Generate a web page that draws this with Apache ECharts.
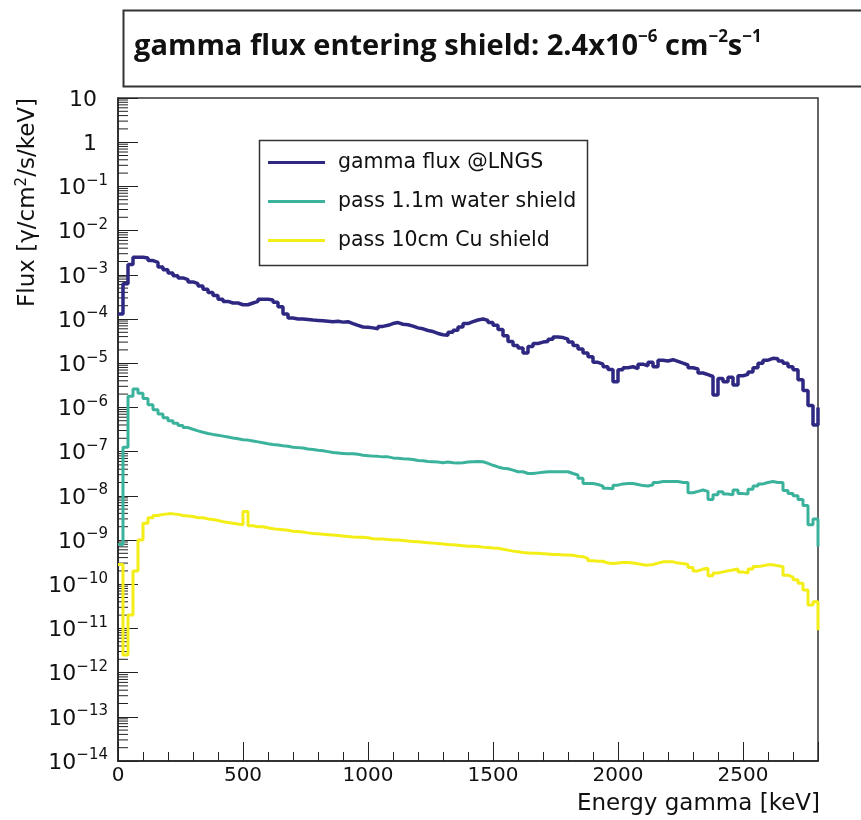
<!DOCTYPE html>
<html>
<head>
<meta charset="utf-8">
<script src="https://cdn.jsdelivr.net/npm/echarts@6/dist/echarts.min.js"></script>
<style>
html,body{margin:0;padding:0;background:#fff;}
#chart{width:861px;height:820px;}
</style>
</head>
<body>
<div id="chart"></div>
<script>
// Energy bin lower edges [keV]
const energies = [0,20,40,60,80,100,120,140,160,180,200,220,240,260,280,300,320,340,360,380,
400,420,440,460,480,500,520,540,560,580,600,620,640,660,680,700,720,740,760,780,
800,820,840,860,880,900,920,940,960,980,1000,1020,1040,1060,1080,1100,1120,1140,1160,1180,
1200,1220,1240,1260,1280,1300,1320,1340,1360,1380,1400,1420,1440,1460,1480,1500,1520,1540,1560,1580,
1600,1620,1640,1660,1680,1700,1720,1740,1760,1780,1800,1820,1840,1860,1880,1900,1920,1940,1960,1980,
2000,2020,2040,2060,2080,2100,2120,2140,2160,2180,2200,2220,2240,2260,2280,2300,2320,2340,2360,2380,
2400,2420,2440,2460,2480,2500,2520,2540,2560,2580,2600,2620,2640,2660,2680,2700,2720,2740,2760,2780,2800];

// gamma flux @LNGS
const fluxLNGS = [1.3e-4,6.3e-4,1.7e-3,2.5e-3,2.5e-3,2.4e-3,2.1e-3,1.9e-3,1.5e-3,1.3e-3,
1.1e-3,9.5e-4,8.5e-4,7.8e-4,6.9e-4,6.3e-4,5.6e-4,4.7e-4,4.0e-4,3.4e-4,
2.8e-4,2.5e-4,2.3e-4,2.3e-4,2.1e-4,2.1e-4,2.3e-4,2.5e-4,2.8e-4,2.8e-4,
2.7e-4,2.4e-4,1.9e-4,1.3e-4,1.05e-4,1.0e-4,1.0e-4,9.8e-5,9.5e-5,9.3e-5,
9.1e-5,8.9e-5,8.7e-5,8.9e-5,8.5e-5,8.7e-5,7.9e-5,7.2e-5,6.6e-5,6.5e-5,
6.3e-5,6.0e-5,6.8e-5,7.2e-5,7.9e-5,8.3e-5,7.6e-5,7.4e-5,6.9e-5,6.3e-5,
6.0e-5,5.5e-5,5.2e-5,4.7e-5,4.4e-5,4.3e-5,5.0e-5,5.6e-5,6.6e-5,7.9e-5,
8.7e-5,9.5e-5,1.0e-4,9.3e-5,8.3e-5,7.2e-5,5.8e-5,4.2e-5,3.1e-5,2.5e-5,
2.2e-5,1.7e-5,2.4e-5,2.8e-5,3.0e-5,3.1e-5,3.5e-5,3.9e-5,3.8e-5,3.5e-5,
3.0e-5,2.5e-5,2.1e-5,1.7e-5,1.4e-5,1.05e-5,9.5e-6,8.3e-6,7.2e-6,3.8e-6,
7.1e-6,7.9e-6,8.3e-6,7.6e-6,9.5e-6,8.7e-6,1.05e-5,8.3e-6,1.17e-5,1.12e-5,
1.2e-5,1.1e-5,1.0e-5,9.1e-6,7.9e-6,7.4e-6,6.0e-6,5.5e-6,5.0e-6,1.9e-6,
4.5e-6,3.8e-6,4.8e-6,3.2e-6,5.2e-6,5.6e-6,6.3e-6,7.9e-6,1.0e-5,1.17e-5,
1.29e-5,1.26e-5,1.12e-5,1.0e-5,8.3e-6,7.1e-6,4.2e-6,2.4e-6,1.1e-6,4.0e-7,1.0e-6];

// pass 1.1m water shield
const fluxWater = [7.9e-10,1.26e-7,1.78e-6,2.6e-6,2.1e-6,1.58e-6,1.15e-6,8.9e-7,7.1e-7,5.8e-7,
5.0e-7,4.4e-7,3.9e-7,3.5e-7,3.2e-7,2.95e-7,2.75e-7,2.57e-7,2.45e-7,2.34e-7,
2.24e-7,2.14e-7,2.04e-7,1.95e-7,1.86e-7,1.82e-7,1.74e-7,1.66e-7,1.58e-7,1.51e-7,
1.45e-7,1.41e-7,1.35e-7,1.32e-7,1.26e-7,1.23e-7,1.20e-7,1.15e-7,1.12e-7,1.07e-7,
1.05e-7,1.0e-7,9.5e-8,9.3e-8,9.1e-8,8.9e-8,8.9e-8,8.7e-8,8.3e-8,8.1e-8,
7.9e-8,7.8e-8,7.6e-8,7.6e-8,7.2e-8,7.1e-8,6.9e-8,6.8e-8,6.6e-8,6.3e-8,
6.2e-8,6.0e-8,5.9e-8,5.8e-8,5.6e-8,5.8e-8,5.6e-8,5.5e-8,5.6e-8,5.8e-8,
5.9e-8,6.0e-8,5.9e-8,5.4e-8,4.9e-8,4.5e-8,4.2e-8,4.1e-8,3.8e-8,3.5e-8,
3.5e-8,3.2e-8,3.2e-8,3.3e-8,3.4e-8,3.5e-8,3.5e-8,3.5e-8,3.5e-8,3.5e-8,
3.2e-8,2.95e-8,2.5e-8,1.9e-8,1.9e-8,1.8e-8,1.66e-8,1.48e-8,1.45e-8,1.74e-8,
1.86e-8,1.9e-8,1.9e-8,1.8e-8,1.7e-8,1.66e-8,1.78e-8,2.0e-8,2.1e-8,2.1e-8,
2.1e-8,2.1e-8,2.0e-8,2.0e-8,1.17e-8,1.26e-8,1.35e-8,1.26e-8,8.3e-9,1.05e-8,
1.23e-8,1.1e-8,1.05e-8,1.35e-8,1.12e-8,1.1e-8,1.41e-8,1.66e-8,1.86e-8,2.0e-8,
2.1e-8,2.0e-8,2.0e-8,1.32e-8,1.12e-8,1.0e-8,8.3e-9,6.0e-9,2.2e-9,3.0e-9,7.1e-10];

// pass 10cm Cu shield
const fluxCu = [2.8e-10,2.5e-12,2.0e-11,2.0e-10,1.0e-9,2.4e-9,3.2e-9,3.6e-9,3.8e-9,3.9e-9,
3.9e-9,3.8e-9,3.6e-9,3.5e-9,3.4e-9,3.2e-9,3.2e-9,3.0e-9,2.9e-9,2.75e-9,
2.6e-9,2.5e-9,2.4e-9,2.3e-9,2.2e-9,4.4e-9,2.1e-9,2.0e-9,2.0e-9,1.9e-9,
1.8e-9,1.74e-9,1.7e-9,1.66e-9,1.58e-9,1.55e-9,1.51e-9,1.45e-9,1.41e-9,1.38e-9,
1.35e-9,1.32e-9,1.29e-9,1.26e-9,1.23e-9,1.2e-9,1.17e-9,1.15e-9,1.15e-9,1.12e-9,
1.07e-9,1.05e-9,1.05e-9,1.02e-9,1.0e-9,1.0e-9,9.8e-10,9.5e-10,9.3e-10,9.1e-10,
8.9e-10,8.7e-10,8.5e-10,8.3e-10,8.1e-10,7.9e-10,7.8e-10,7.6e-10,7.4e-10,7.2e-10,
7.2e-10,7.1e-10,6.9e-10,6.8e-10,6.6e-10,6.5e-10,6.2e-10,5.9e-10,5.6e-10,5.4e-10,
5.2e-10,5.1e-10,5.0e-10,5.0e-10,4.9e-10,4.8e-10,4.7e-10,4.7e-10,4.6e-10,4.6e-10,
4.5e-10,4.3e-10,4.2e-10,3.8e-10,3.4e-10,3.3e-10,3.3e-10,3.0e-10,2.95e-10,3.0e-10,
3.1e-10,3.1e-10,3.0e-10,2.9e-10,2.75e-10,2.7e-10,2.8e-10,3.0e-10,3.2e-10,3.2e-10,
3.2e-10,3.0e-10,2.95e-10,2.8e-10,2.4e-10,2.0e-10,2.2e-10,2.3e-10,1.55e-10,1.8e-10,
1.9e-10,2.0e-10,2.1e-10,2.2e-10,1.9e-10,1.78e-10,2.2e-10,2.5e-10,2.6e-10,2.75e-10,
2.75e-10,2.6e-10,2.5e-10,1.6e-10,1.45e-10,1.26e-10,1.05e-10,7.4e-11,3.4e-11,4.0e-11,9.1e-12];

const seriesNames = ['gamma flux @LNGS', 'pass 1.1m water shield', 'pass 10cm Cu shield'];
const seriesColors = ['#2e2883', '#3bb39c', '#f2ee16'];
const xTickLabels = ['0','500','1000','1500','2000','2500'];
const yDecades = [1,0,-1,-2,-3,-4,-5,-6,-7,-8,-9,-10,-11,-12,-13,-14];
const yMinorMultipliers = [2,3,4,5,6,7,8,9];

const yMinorTicks = [];
yDecades.forEach(function (d) {
  if (d >= 1) return;
  yMinorMultipliers.forEach(function (m) { yMinorTicks.push([0, m * Math.pow(10, d)]); });
});

const chart = echarts.init(document.getElementById('chart'), null, {renderer: 'canvas'});
const FONT = 'DejaVu Sans';

function pairs(vals) { return energies.map(function (e, i) { return [e, vals[i]]; }); }

const option = {
  backgroundColor: '#ffffff',
  animation: false,
  grid: {left: 118, right: 43, top: 98, bottom: 59, show: true, borderColor: '#333', borderWidth: 1.5, containLabel: false},
  xAxis: {
    type: 'value', min: 0, max: 2800, interval: 500,
    axisLine: {show: true, lineStyle: {color: '#222', width: 1.5}},
    axisTick: {show: true, inside: true, length: 19, lineStyle: {color: '#222', width: 1}},
    minorTick: {show: true, splitNumber: 5, length: 9, lineStyle: {color: '#222', width: 1}},
    splitLine: {show: false},
    axisLabel: {
      show: true, margin: 5, color: '#111', fontFamily: FONT, fontSize: 20,
      formatter: function (v) { const s = String(v); return xTickLabels.indexOf(s) >= 0 ? s : ''; }
    }
  },
  yAxis: {
    type: 'log', logBase: 10, min: 1e-14, max: 10, interval: 1,
    axisLine: {show: true, lineStyle: {color: '#222', width: 1.5}},
    axisTick: {show: true, inside: true, length: 20, lineStyle: {color: '#222', width: 1}},
    splitLine: {show: false},
    axisLabel: {
      show: true, margin: 10, color: '#111', fontFamily: FONT, showMinLabel: true, showMaxLabel: true, hideOverlap: false,
      formatter: function (v) {
        const e = Math.round(Math.log10(v));
        if (e === 1) return '{p|10}';
        if (e === 0) return '{p|1}';
        return '{b|10}{s|\u2212' + (-e) + '}';
      },
      rich: {
        p: {fontFamily: FONT, fontSize: 22, lineHeight: 26, color: '#111', padding: [4, 11, 0, 0]},
        b: {fontFamily: FONT, fontSize: 22, lineHeight: 26, color: '#111', padding: [4, 0, 0, 0]},
        s: {fontFamily: FONT, fontSize: 15, lineHeight: 16, color: '#111', verticalAlign: 'top'}
      }
    }
  },
  legend: {
    show: true, orient: 'vertical', left: 268, top: 152, padding: 0,
    itemWidth: 57, itemHeight: 3, itemGap: 18, icon: 'rect',
    data: seriesNames,
    textStyle: {fontFamily: FONT, fontSize: 20.5, color: '#111', lineHeight: 20, padding: [0, 0, 0, 8]}
  },
  graphic: [
    {type: 'rect', left: 121, top: 8, shape: {width: 800, height: 76}, style: {fill: 'none', stroke: '#333', lineWidth: 2}, silent: true},
    {type: 'text', x: 134, y: 47, silent: true,
      style: {
        text: '{a|gamma flux entering shield: 2.4x10}{s|\u22126}{a| cm}{s|\u22122}{a|s}{s|\u22121}',
        verticalAlign: 'middle', align: 'left',
        rich: {
          a: {fontFamily: 'Open Sans', fontWeight: 'bold', fontSize: 29, lineHeight: 36, fill: '#111'},
          s: {fontFamily: 'Open Sans', fontWeight: 'bold', fontSize: 17, lineHeight: 22, fill: '#111', verticalAlign: 'top'}
        }
      }
    },
    {type: 'rect', left: 257, top: 138, shape: {width: 328, height: 125}, style: {fill: 'none', stroke: '#333', lineWidth: 1.5}, silent: true, z: 10},
    {type: 'text', x: 28, y: 98, rotation: Math.PI / 2, silent: true,
      style: {
        text: '{t|Flux [\u03b3/cm}{u|2}{t|/s/keV]}', align: 'right', verticalAlign: 'middle',
        rich: {
          t: {fontFamily: FONT, fontSize: 23, lineHeight: 26, fill: '#111'},
          u: {fontFamily: FONT, fontSize: 15, lineHeight: 16, fill: '#111', verticalAlign: 'top'}
        }
      }
    },
    {type: 'text', x: 820, y: 804, silent: true,
      style: {text: 'Energy gamma [keV]', align: 'right', verticalAlign: 'middle', fontFamily: FONT, fontSize: 23, fill: '#111'}
    }
  ],
  series: [
    {name: seriesNames[0], type: 'line', step: 'end', showSymbol: false, data: pairs(fluxLNGS),
      lineStyle: {color: seriesColors[0], width: 3.5}, itemStyle: {color: seriesColors[0]}, z: 3},
    {name: seriesNames[1], type: 'line', step: 'end', showSymbol: false, data: pairs(fluxWater),
      lineStyle: {color: seriesColors[1], width: 3}, itemStyle: {color: seriesColors[1]}, z: 3},
    {name: seriesNames[2], type: 'line', step: 'end', showSymbol: false, data: pairs(fluxCu),
      lineStyle: {color: seriesColors[2], width: 3}, itemStyle: {color: seriesColors[2]}, z: 3},
    {name: 'yMinorTicks', type: 'custom', silent: true, data: yMinorTicks, encode: {x: 0, y: 1},
      renderItem: function (params, api) {
        const p = api.coord([api.value(0), api.value(1)]);
        return {type: 'line', shape: {x1: p[0], y1: p[1], x2: p[0] + 10, y2: p[1]}, style: {stroke: '#222', lineWidth: 1}};
      }, z: 2}
  ]
};
chart.setOption(option);
</script>
</body>
</html>
